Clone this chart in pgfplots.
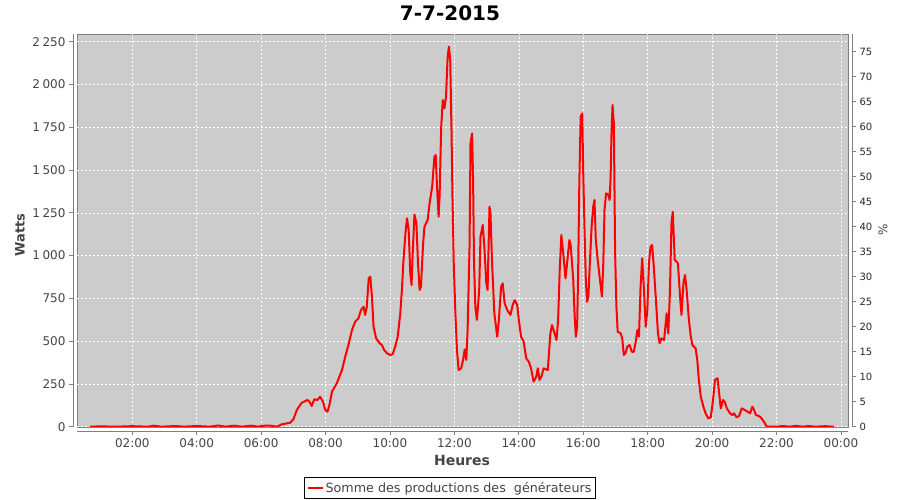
\documentclass[border=0pt]{standalone}
\usepackage{fontspec}
\setmainfont{DejaVu Sans}
\usepackage{pgfplots}
\usepackage{pgfplotstable}
\pgfplotsset{compat=1.18}

\definecolor{plotbg}{RGB}{204,204,204}
\definecolor{axisgray}{RGB}{128,128,128}
\definecolor{labelgray}{RGB}{68,68,68}

% hours (decimal) vs watts
\pgfplotstableread{
h W
0.68 0
1.00 2
1.50 0
2.00 3
2.50 0
2.65 6
2.90 0
3.35 4
3.60 0
4.00 4
4.40 0
4.66 7
4.90 0
5.15 6
5.40 0
5.70 6
5.90 0
6.05 5
6.25 7
6.49 0
6.64 14
6.90 23
7.00 43
7.11 98
7.26 140
7.44 156
7.50 146
7.57 121
7.65 160
7.75 156
7.83 175
7.92 146
7.99 98
8.06 88
8.12 127
8.20 205
8.35 254
8.51 331
8.61 409
8.71 477
8.82 565
8.92 614
9.02 633
9.10 682
9.18 701
9.23 653
9.28 701
9.34 867
9.39 877
9.44 760
9.49 584
9.57 517
9.68 487
9.75 477
9.82 448
9.91 429
10.01 419
10.09 425
10.16 468
10.24 526
10.32 663
10.37 799
10.42 974
10.48 1130
10.53 1218
10.58 1150
10.63 896
10.67 828
10.71 1033
10.76 1240
10.82 1189
10.87 955
10.92 799
10.96 818
11.03 1072
11.07 1169
11.17 1208
11.23 1306
11.31 1403
11.38 1578
11.42 1588
11.46 1403
11.51 1227
11.54 1344
11.59 1753
11.64 1909
11.69 1860
11.74 1929
11.79 2162
11.83 2221
11.87 2143
11.91 1734
11.94 1344
11.98 955
12.03 663
12.08 448
12.13 331
12.21 341
12.27 390
12.32 452
12.37 390
12.41 565
12.47 1052
12.50 1656
12.55 1714
12.58 1442
12.61 955
12.65 701
12.70 624
12.77 799
12.81 1110
12.88 1179
12.93 1052
12.99 838
13.03 799
13.09 1286
13.12 1247
13.17 955
13.24 663
13.33 526
13.38 624
13.45 818
13.50 838
13.56 721
13.64 682
13.74 653
13.81 711
13.87 740
13.95 711
14.00 624
14.07 526
14.15 497
14.23 400
14.31 380
14.38 341
14.46 263
14.54 292
14.59 341
14.64 273
14.70 292
14.77 341
14.90 331
14.98 546
15.03 594
15.11 546
15.17 507
15.22 624
15.27 916
15.32 1120
15.38 1013
15.45 867
15.52 994
15.57 1091
15.61 1062
15.69 857
15.73 663
15.77 526
15.81 584
15.84 877
15.88 1442
15.92 1812
15.97 1831
16.00 1481
16.04 1150
16.08 857
16.12 730
16.16 760
16.20 935
16.26 1169
16.31 1286
16.35 1325
16.39 1091
16.45 974
16.52 857
16.58 760
16.62 935
16.66 1266
16.71 1364
16.78 1354
16.82 1325
16.85 1461
16.88 1734
16.91 1880
16.95 1773
16.99 1013
17.03 701
17.07 555
17.16 546
17.21 517
17.26 419
17.31 429
17.37 468
17.44 477
17.51 438
17.57 438
17.63 497
17.68 565
17.73 526
17.78 818
17.83 984
17.88 818
17.94 584
17.99 682
18.04 955
18.09 1052
18.14 1062
18.19 935
18.25 760
18.32 546
18.37 487
18.43 517
18.51 507
18.59 663
18.64 546
18.69 779
18.74 1189
18.78 1256
18.84 974
18.90 964
18.94 955
19.02 721
19.05 653
19.11 838
19.16 887
19.21 799
19.28 624
19.34 526
19.39 477
19.49 458
19.54 390
19.59 273
19.65 175
19.73 117
19.80 78
19.88 49
19.96 55
20.03 156
20.09 273
20.17 283
20.22 195
20.27 107
20.34 156
20.39 146
20.46 107
20.56 78
20.63 68
20.68 78
20.76 55
20.84 63
20.92 107
21.01 98
21.10 88
21.18 78
21.25 117
21.30 100
21.36 68
21.45 63
21.51 55
21.61 29
21.70 0
22.00 0
22.20 4
22.40 0
22.60 5
22.80 0
23.00 4
23.20 0
23.50 3
23.79 0
}\prodtable

\begin{document}
\begin{tikzpicture}
\useasboundingbox (-77pt,-73pt) rectangle (823pt,427pt);

% main axis (Watts)
\begin{axis}[
    at={(0pt,0pt)}, anchor=south west,
    scale only axis, width=771pt, height=393pt,
    xmin=0.283, xmax=24.22,
    ymin=-1.75, ymax=2295,
    axis x line*=bottom, axis y line*=left,
    axis line shift=4pt,
    axis line style={axisgray, line width=0.8pt, -},
    every outer x axis line/.append style={-},
    every outer y axis line/.append style={-},
    axis background/.style={fill=plotbg, draw=axisgray, line width=0.8pt},
    xtick={2,4,...,24},
    xticklabels={02:00,04:00,06:00,08:00,10:00,12:00,14:00,16:00,18:00,20:00,22:00,00:00},
    ytick={0,250,...,2250},
    tick align=outside, major tick length=4pt,
    tick style={axisgray, line width=0.8pt},
    grid=major,
    major grid style={white, line width=0.6pt, dash pattern=on 2pt off 2pt},
    tick label style={font=\fontsize{12}{14}\selectfont, text=labelgray},
    /pgf/number format/assume math mode=true,
    /pgf/number format/1000 sep={\hspace{0.22em}},
    legend style={at={(0.4838,-0.1547)}, anchor=center, draw=black, line width=0.8pt,
        fill=white, font=\fontsize{12.7}{15}\selectfont, text=labelgray,
        inner xsep=2pt, inner ysep=2.5pt},
    legend image code/.code={\draw[#1] (0pt,0pt) -- (15pt,0pt);},
]
\addplot[red, line width=2pt, line join=round] table[x=h, y=W] {\prodtable};
\addlegendentry{Somme des productions des\ \ générateurs}
\end{axis}

% right axis (%)
\begin{axis}[
    at={(0pt,0pt)}, anchor=south west,
    scale only axis, width=771pt, height=393pt,
    xmin=0.283, xmax=24.22,
    ymin=-0.06, ymax=78.54,
    axis x line=none, axis y line*=right,
    axis line shift=4pt,
    axis line style={axisgray, line width=0.8pt, -},
    every outer y axis line/.append style={-},
    ytick={0,5,...,75},
    tick align=outside, major tick length=4pt,
    tick style={axisgray, line width=0.8pt},
    yticklabel style={font=\fontsize{10}{12}\selectfont, text=black!85},
    /pgf/number format/assume math mode=true,
]
\end{axis}

\node[font=\bfseries\fontsize{20}{22}\selectfont] at (373pt,414pt) {7-7-2015};
\node[font=\bfseries\fontsize{13}{15}\selectfont, text=labelgray, rotate=90] at (-57pt,192pt) {Watts};
\node[font=\bfseries\fontsize{14}{16}\selectfont, text=labelgray] at (385pt,-33pt) {Heures};
\node[font=\fontsize{12}{14}\selectfont, text=labelgray, rotate=90] at (806pt,197pt) {\%};
\end{tikzpicture}
\end{document}
